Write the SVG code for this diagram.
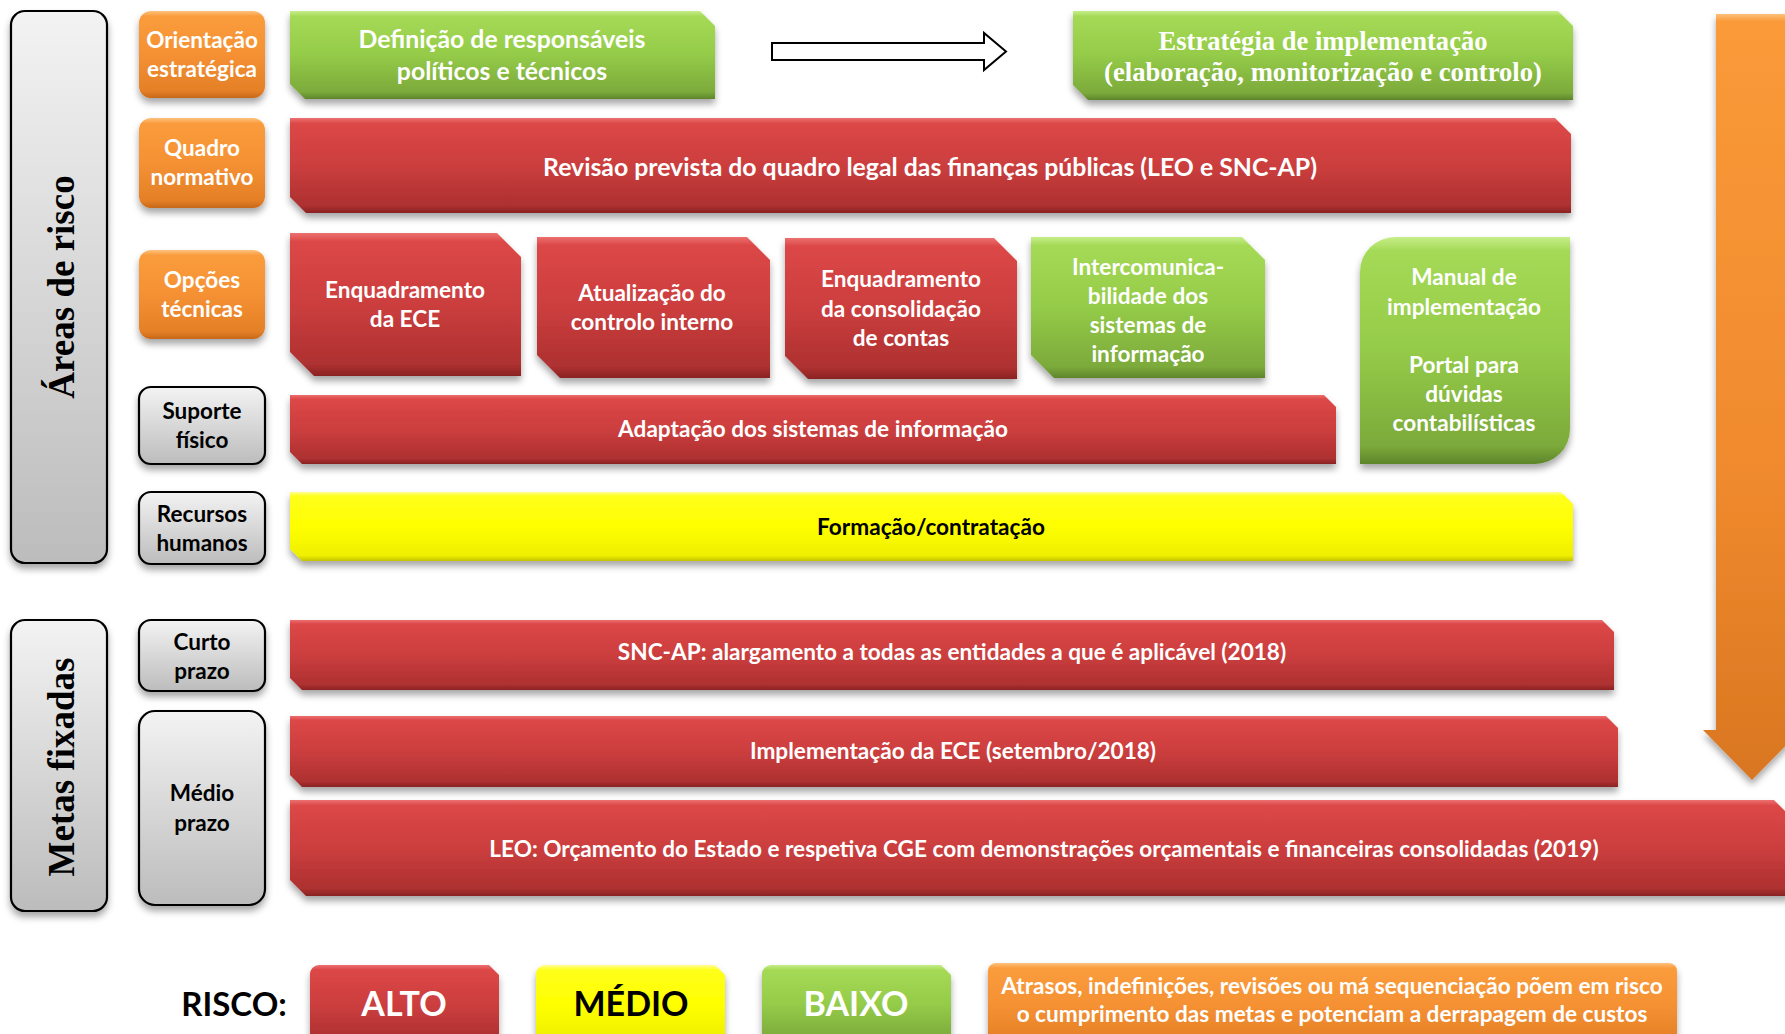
<svg xmlns="http://www.w3.org/2000/svg" width="1785" height="1034" viewBox="0 0 1785 1034">
  <defs>
    <linearGradient id="gRed" x1="0" y1="0" x2="0" y2="1">
      <stop offset="0" stop-color="#ec7070"/>
      <stop offset="0.06" stop-color="#dc4747"/>
      <stop offset="0.5" stop-color="#cc3e3e"/>
      <stop offset="0.92" stop-color="#ae3030"/>
      <stop offset="1" stop-color="#8a2323"/>
    </linearGradient>
    <linearGradient id="gGreen" x1="0" y1="0" x2="0" y2="1">
      <stop offset="0" stop-color="#c6ee8a"/>
      <stop offset="0.06" stop-color="#a5da56"/>
      <stop offset="0.5" stop-color="#94cb48"/>
      <stop offset="0.92" stop-color="#7caa3b"/>
      <stop offset="1" stop-color="#5d852a"/>
    </linearGradient>
    <linearGradient id="gYellow" x1="0" y1="0" x2="0" y2="1">
      <stop offset="0" stop-color="#ffff96"/>
      <stop offset="0.06" stop-color="#ffff1c"/>
      <stop offset="0.5" stop-color="#ffff00"/>
      <stop offset="0.92" stop-color="#efef00"/>
      <stop offset="1" stop-color="#c4c400"/>
    </linearGradient>
    <linearGradient id="gOrange" x1="0" y1="0" x2="0" y2="1">
      <stop offset="0" stop-color="#fdc27e"/>
      <stop offset="0.06" stop-color="#fa9c3c"/>
      <stop offset="0.5" stop-color="#f59133"/>
      <stop offset="0.92" stop-color="#e47f26"/>
      <stop offset="1" stop-color="#c6681b"/>
    </linearGradient>
    <linearGradient id="gArrow" x1="0" y1="0" x2="0" y2="1">
      <stop offset="0" stop-color="#fdc07a"/>
      <stop offset="0.01" stop-color="#fa9a38"/>
      <stop offset="0.6" stop-color="#f08a2e"/>
      <stop offset="1" stop-color="#d97620"/>
    </linearGradient>
    <linearGradient id="gGray" x1="0" y1="0" x2="0" y2="1">
      <stop offset="0" stop-color="#f3f3f3"/>
      <stop offset="1" stop-color="#bcbcbc"/>
    </linearGradient>
    <filter id="shadow" x="-10%" y="-20%" width="120%" height="150%">
      <feDropShadow dx="0" dy="5" stdDeviation="3.5" flood-color="#000" flood-opacity="0.35"/>
    </filter>
  </defs>
  <style>
    .red { fill: url(#gRed); filter: url(#shadow); }
    .green { fill: url(#gGreen); filter: url(#shadow); }
    .yellow { fill: url(#gYellow); filter: url(#shadow); }
    .orange { fill: url(#gOrange); filter: url(#shadow); }
    .gray { fill: url(#gGray); stroke: #000; stroke-width: 2.2; filter: url(#shadow); }
    .lbl { font-family: Lato, "Open Sans", "DejaVu Sans", sans-serif; font-weight: 700; font-size: 22.5px; text-anchor: middle; }
    .bar { font-family: Lato, "Open Sans", "DejaVu Sans", sans-serif; font-weight: 700; font-size: 22.6px; text-anchor: middle; fill: #fff; }
    .big { font-size: 24.8px; }
    .w { fill: #fff; }
    .k { fill: #000; }
    .serif { font-family: "Liberation Serif", "DejaVu Serif", serif; font-weight: 700; text-anchor: middle; }
    .leg { font-family: Lato, "Open Sans", sans-serif; font-weight: 700; text-anchor: middle; }
  </style>

  <rect width="1785" height="1034" fill="#fff"/>

  <!-- section headings -->
  <g id="areas-de-risco">
    <rect class="gray" x="11" y="11" width="96" height="552" rx="14"/>
    <text class="serif k" font-size="37" transform="translate(74,287) rotate(-90)">Áreas de risco</text>
  </g>
  <g id="metas-fixadas">
    <rect class="gray" x="11" y="620" width="96" height="291" rx="14"/>
    <text class="serif k" font-size="37" transform="translate(74,767) rotate(-90)">Metas fixadas</text>
  </g>

  <!-- category labels -->
  <g id="orientacao">
    <rect class="orange" x="139" y="11" width="126" height="87" rx="12"/>
    <text class="lbl w" x="202" y="48">Orientação</text>
    <text class="lbl w" x="202" y="77">estratégica</text>
  </g>
  <g id="quadro">
    <rect class="orange" x="139" y="118" width="126" height="90" rx="12"/>
    <text class="lbl w" x="202" y="156">Quadro</text>
    <text class="lbl w" x="202" y="185">normativo</text>
  </g>
  <g id="opcoes">
    <rect class="orange" x="139" y="250" width="126" height="89" rx="12"/>
    <text class="lbl w" x="202" y="288">Opções</text>
    <text class="lbl w" x="202" y="317">técnicas</text>
  </g>
  <g id="suporte">
    <rect class="gray" x="139" y="387" width="126" height="77" rx="12"/>
    <text class="lbl k" x="202" y="419">Suporte</text>
    <text class="lbl k" x="202" y="448">físico</text>
  </g>
  <g id="recursos">
    <rect class="gray" x="139" y="492" width="126" height="72" rx="12"/>
    <text class="lbl k" x="202" y="522">Recursos</text>
    <text class="lbl k" x="202" y="551">humanos</text>
  </g>
  <g id="curto">
    <rect class="gray" x="139" y="620" width="126" height="71" rx="12"/>
    <text class="lbl k" x="202" y="650">Curto</text>
    <text class="lbl k" x="202" y="679">prazo</text>
  </g>
  <g id="medio">
    <rect class="gray" x="139" y="711" width="126" height="194" rx="16"/>
    <text class="lbl k" x="202" y="801">Médio</text>
    <text class="lbl k" x="202" y="831">prazo</text>
  </g>

  <!-- strategic orientation row -->
  <g id="definicao">
    <path class="green" d="M290,11 H700 L715,26 V99 H305 L290,84 Z"/>
    <text class="bar big" x="502" y="48">Definição de responsáveis</text>
    <text class="bar big" x="502" y="80">políticos e técnicos</text>
  </g>
  <g id="estrategia">
    <path class="green" d="M1073,11 H1558 L1573,26 V100 H1088 L1073,85 Z"/>
    <text class="serif w" font-size="28" font-weight="400" x="1323" y="50" textLength="329" lengthAdjust="spacingAndGlyphs">Estratégia de implementação</text>
    <text class="serif w" font-size="28" font-weight="400" x="1323" y="81" textLength="438" lengthAdjust="spacingAndGlyphs">(elaboração, monitorização e controlo)</text>
  </g>

  <!-- normative framework -->
  <g id="revisao">
    <path class="red" d="M290,118 H1555 L1571,134 V213 H306 L290,197 Z"/>
    <text class="bar big" x="930" y="176">Revisão prevista do quadro legal das finanças públicas (LEO e SNC-AP)</text>
  </g>

  <!-- technical options -->
  <g id="enq-ece">
    <path class="red" d="M290,233 H497 L521,257 V376 H314 L290,352 Z"/>
    <text class="bar" x="405" y="298">Enquadramento</text>
    <text class="bar" x="405" y="327">da ECE</text>
  </g>
  <g id="controlo-interno">
    <path class="red" d="M537,237 H747 L770,260 V378 H560 L537,355 Z"/>
    <text class="bar" x="652" y="301">Atualização do</text>
    <text class="bar" x="652" y="330">controlo interno</text>
  </g>
  <g id="consolidacao">
    <path class="red" d="M785,238 H994 L1017,261 V379 H808 L785,356 Z"/>
    <text class="bar" x="901" y="287">Enquadramento</text>
    <text class="bar" x="901" y="317">da consolidação</text>
    <text class="bar" x="901" y="346">de contas</text>
  </g>
  <g id="intercomunicabilidade">
    <path class="green" d="M1031,237 H1242 L1265,260 V378 H1054 L1031,355 Z"/>
    <text class="bar" x="1148" y="275">Intercomunica-</text>
    <text class="bar" x="1148" y="304">bilidade dos</text>
    <text class="bar" x="1148" y="333">sistemas de</text>
    <text class="bar" x="1148" y="362">informação</text>
  </g>
  <g id="manual-portal">
    <path class="green" d="M1395,237 H1570 V429 A35,35 0 0 1 1535,464 H1360 V272 A35,35 0 0 1 1395,237 Z"/>
    <text class="bar" x="1464" y="285">Manual de</text>
    <text class="bar" x="1464" y="315">implementação</text>
    <text class="bar" x="1464" y="373">Portal para</text>
    <text class="bar" x="1464" y="402">dúvidas</text>
    <text class="bar" x="1464" y="431">contabilísticas</text>
  </g>

  <!-- physical support and human resources -->
  <g id="adaptacao">
    <path class="red" d="M290,395 H1324 L1336,407 V464 H302 L290,452 Z"/>
    <text class="bar" x="813" y="437">Adaptação dos sistemas de informação</text>
  </g>
  <g id="formacao">
    <path class="yellow" d="M290,492 H1561 L1573,504 V561 H302 L290,549 Z"/>
    <text class="bar" x="931" y="535" style="fill:#000">Formação/contratação</text>
  </g>

  <!-- goals -->
  <g id="snc-ap">
    <path class="red" d="M290,620 H1602 L1614,632 V690 H302 L290,678 Z"/>
    <text class="bar" x="952" y="660">SNC-AP: alargamento a todas as entidades a que é aplicável (2018)</text>
  </g>
  <g id="ece">
    <path class="red" d="M290,716 H1606 L1618,728 V787 H302 L290,775 Z"/>
    <text class="bar" x="953" y="759">Implementação da ECE (setembro/2018)</text>
  </g>
  <g id="leo">
    <path class="red" d="M290,800 H1774 L1790,816 V896 H306 L290,880 Z"/>
    <text class="bar" x="1044" y="857">LEO: Orçamento do Estado e respetiva CGE com demonstrações orçamentais e financeiras consolidadas (2019)</text>
  </g>

  <!-- connectors -->
  <g id="connectors">
    <path d="M772,43 H984 V33 L1006,51.5 L984,70 V60 H772 Z" fill="#fff" stroke="#000" stroke-width="2"/>
    <path d="M1716,14 H1788 V730 H1801 L1752,780 L1703,730 H1716 Z" fill="url(#gArrow)" filter="url(#shadow)"/>
  </g>

  <!-- risk legend -->
  <g id="legend">
    <text class="leg" x="234" y="1016" font-size="33" fill="#000">RISCO:</text>
    <g id="alto">
      <path class="red" d="M319,965 H489 L499,975 V1045 H310 V974 A9,9 0 0 1 319,965 Z"/>
      <text class="leg" x="404" y="1016" font-size="34" fill="#fff">ALTO</text>
    </g>
    <g id="medio-risco">
      <path class="yellow" d="M545,965 H715 L725,975 V1045 H536 V974 A9,9 0 0 1 545,965 Z"/>
      <text class="leg" x="631" y="1016" font-size="34" fill="#000">MÉDIO</text>
    </g>
    <g id="baixo">
      <path class="green" d="M771,965 H941 L951,975 V1045 H762 V974 A9,9 0 0 1 771,965 Z"/>
      <text class="leg" x="856" y="1016" font-size="34" fill="#fff">BAIXO</text>
    </g>
    <g id="nota">
      <rect class="orange" x="988" y="963" width="689" height="85" rx="8"/>
      <text class="bar" x="1332" y="994" font-size="21.5">Atrasos, indefinições, revisões ou má sequenciação põem em risco</text>
      <text class="bar" x="1332" y="1022" font-size="21.5">o cumprimento das metas e potenciam a derrapagem de custos</text>
    </g>
  </g>
</svg>
